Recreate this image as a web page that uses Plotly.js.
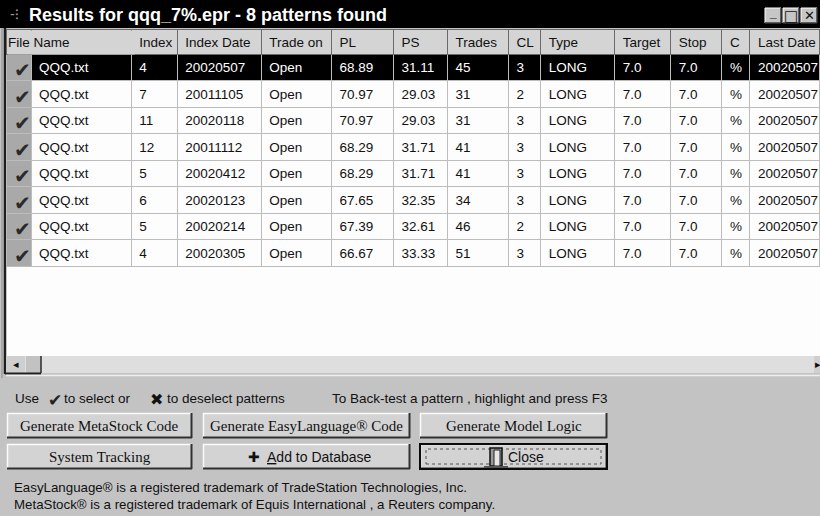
<!DOCTYPE html>
<html><head><meta charset="utf-8">
<script src="https://cdn.plot.ly/plotly-3.0.1.min.js"></script>
<style>html,body{margin:0;padding:0;background:#c3c3c3;}#chart{width:820px;height:516px;}</style>
</head><body><div id="chart"></div>
<script>
// ---------- data ----------
const windowTitle = 'Results for qqq_7%.epr - 8 patterns found';
const fileNameHeader = 'File Name';
const columnHeaders = ['', '', 'Index', 'Index Date', 'Trade on', 'PL', 'PS', 'Trades', 'CL', 'Type', 'Target', 'Stop', 'C', 'Last Date'];
const selected   = [true, true, true, true, true, true, true, true];
const fileNames  = ['QQQ.txt', 'QQQ.txt', 'QQQ.txt', 'QQQ.txt', 'QQQ.txt', 'QQQ.txt', 'QQQ.txt', 'QQQ.txt'];
const indexes    = [4, 7, 11, 12, 5, 6, 5, 4];
const indexDates = ['20020507', '20011105', '20020118', '20011112', '20020412', '20020123', '20020214', '20020305'];
const tradeOn    = ['Open', 'Open', 'Open', 'Open', 'Open', 'Open', 'Open', 'Open'];
const plValues   = [68.89, 70.97, 70.97, 68.29, 68.29, 67.65, 67.39, 66.67];
const psValues   = [31.11, 29.03, 29.03, 31.71, 31.71, 32.35, 32.61, 33.33];
const trades     = [45, 31, 31, 41, 41, 34, 46, 51];
const clValues   = [3, 2, 3, 3, 3, 3, 2, 3];
const types      = ['LONG', 'LONG', 'LONG', 'LONG', 'LONG', 'LONG', 'LONG', 'LONG'];
const targets    = [7.0, 7.0, 7.0, 7.0, 7.0, 7.0, 7.0, 7.0];
const stops      = [7.0, 7.0, 7.0, 7.0, 7.0, 7.0, 7.0, 7.0];
const cUnits     = ['%', '%', '%', '%', '%', '%', '%', '%'];
const lastDates  = ['20020507', '20020507', '20020507', '20020507', '20020507', '20020507', '20020507', '20020507'];
const highlightedRow = 0;
const instructionParts = ['Use', '✔', 'to select or', '✖', 'to deselect patterns'];
const backTestHint = 'To Back-test a pattern , highlight and press F3';
const buttonLabels = ['Generate MetaStock Code', 'Generate EasyLanguage® Code', 'Generate Model Logic',
                      'System Tracking', '✚  <u>A</u>dd to Database', 'Close'];
const footerLines = ['EasyLanguage® is a registered trademark of TradeStation Technologies, Inc.',
                     'MetaStock® is a registered trademark of Equis International , a Reuters company.'];

// ---------- layout helpers (pixel -> paper) ----------
const W = 820, H = 516;
const px = v => v / W;
const py = v => 1 - v / H;
const SANS = 'Liberation Sans, Arial, sans-serif';
const SERIF = 'Liberation Serif, Times New Roman, serif';
const nowrap = s => String(s).replace(/ /g, '\u00a0');

const colWidths = [25, 100, 46, 84, 70, 62, 54, 61, 32, 74, 56, 51, 28, 70];
const rowColor = (hi, normal) => fileNames.map((_, i) => i === highlightedRow ? hi : normal);

const columns = [selected.map(s => s ? '✔' : ''), fileNames, indexes, indexDates, tradeOn,
  plValues, psValues, trades, clValues, types, targets, stops, cUnits, lastDates];
const formats = ['', '', '', '', '', '.2f', '.2f', '', '', '', '.1f', '.1f', '', ''];

const fillColors = columns.map((c, j) => j === 0 ? fileNames.map(() => '#a9a9a9') : rowColor('#000000', '#fdfdfd'));
const fontColors = columns.map((c, j) => j === 0 ? fileNames.map(() => '#2a2a2a') : rowColor('#ffffff', '#111111'));
const fontSizes = columns.map((c, j) => j === 0 ? 20 : 13.5);

const table = {
  type: 'table',
  domain: {x: [px(6), 1], y: [py(356), py(29)]},
  columnwidth: colWidths,
  header: {
    values: columnHeaders.map(nowrap),
    align: 'left',
    height: 25,
    fill: {color: '#d4d4d4'},
    line: {color: '#6a6a6a', width: 1},
    font: {family: SANS, size: 13.5, color: '#111'}
  },
  cells: {
    values: columns,
    format: formats,
    align: 'left',
    height: 26.5,
    fill: {color: fillColors},
    line: {color: '#bcbcbc', width: 1},
    font: {family: SANS, size: fontSizes, color: fontColors}
  }
};

// ---------- chrome: shapes ----------
const shapes = [];
const rect = (x0, y0, x1, y1, fill, line, lw, dash) => shapes.push({
  type: 'rect', xref: 'paper', yref: 'paper', x0: px(x0), x1: px(x1), y0: py(y1), y1: py(y0),
  fillcolor: fill || 'rgba(0,0,0,0)', line: {color: line || 'rgba(0,0,0,0)', width: lw || 0, dash: dash || 'solid'}, layer: 'below'
});
const line = (x0, y0, x1, y1, color, lw) => shapes.push({
  type: 'line', xref: 'paper', yref: 'paper', x0: px(x0), x1: px(x1), y0: py(y0), y1: py(y1),
  line: {color: color, width: lw}, layer: 'below'
});

// title bar
rect(0, 0, 820, 28, '#000000');
[[765, 781], [783, 799], [801, 817]].forEach(b => {
  rect(b[0], 8, b[1], 23, '#c6c6c6');
  line(b[0], 8, b[1], 8, '#ffffff', 1);
  line(b[0], 8, b[0], 23, '#ffffff', 1);
  line(b[0], 23, b[1], 23, '#3a3a3a', 1.5);
  line(b[1], 8, b[1], 23, '#3a3a3a', 1.5);
});
// list area
rect(6, 29, 820, 356, '#fdfdfd');
line(5, 28, 5, 374, '#1e1e1e', 2.5);
line(2, 28, 2, 378, '#8a8a8a', 1);
// horizontal scrollbar
rect(6, 356, 820, 373, '#dedede');
rect(6, 356, 25, 373, '#cfcfcf');
rect(26, 356, 41, 373, '#c2c2c2');
line(41, 356, 41, 373, '#2a2a2a', 1.5);
line(5, 373.5, 41, 373.5, '#1e1e1e', 2);
line(6, 375.5, 820, 375.5, '#efefef', 1.5);
rect(814, 356, 820, 373, '#cfcfcf');

// buttons
const btns = [[7, 413, 192, 438], [203, 413, 410, 438], [420, 413, 607, 438],
              [7, 444, 192, 469], [203, 444, 410, 469], [420, 444, 607, 469]];
btns.forEach((b, i) => {
  const [x0, y0, x1, y1] = b;
  rect(x0, y0, x1, y1, '#d3d3d3');
  line(x0, y0 + 0.5, x1, y0 + 0.5, '#fbfbfb', 1.5);
  line(x0 + 0.5, y0, x0 + 0.5, y1, '#fbfbfb', 1.5);
  line(x0, y1 - 0.5, x1, y1 - 0.5, '#303030', 2);
  line(x1 - 0.5, y0, x1 - 0.5, y1, '#303030', 2);
  if (i === 5) {
    rect(x0, y0, x1, y1, null, '#0a0a0a', 2);
    rect(x0 + 6, y0 + 5, x1 - 6, y1 - 5, null, '#555555', 1, 'dot');
    rect(490, 448, 502, 466, '#9a9a9a', '#111111', 1.5);
    rect(494, 450, 500, 466, '#e8e8e8', '#222222', 1);
    line(484, 467, 508, 467, '#555555', 2);
  }
});

// ---------- text: annotations ----------
const annotations = [];
const text = (t, x, y, size, opts) => annotations.push(Object.assign({
  text: t, xref: 'paper', yref: 'paper', x: px(x), y: py(y), xanchor: 'left', yanchor: 'middle',
  showarrow: false, font: {family: SANS, size: size, color: '#111'}
}, opts || {}));

text('-⁝', 8, 14, 14, {font: {family: SANS, size: 14, color: '#9a9a9a'}});
text(windowTitle, 27, 15, 18, {font: {family: SANS, size: 18, color: '#ffffff', weight: 'bold'}});
text('_', 773, 13, 12, {xanchor: 'center', font: {family: SANS, size: 12, color: '#111', weight: 'bold'}});
text('□', 791, 15.5, 15, {xanchor: 'center', font: {family: 'DejaVu Sans', size: 15, color: '#111', weight: 'bold'}});
text('✕', 809, 15.5, 13, {xanchor: 'center', font: {family: 'DejaVu Sans', size: 13, color: '#111', weight: 'bold'}});

// header text spanning the check and name columns
annotations.push({
  text: fileNameHeader, xref: 'paper', yref: 'paper', x: px(6.5), y: py(29.5), xanchor: 'left', yanchor: 'top',
  width: 126, height: 23, align: 'left', bgcolor: '#d4d4d4', borderpad: 0,
  showarrow: false, font: {family: SANS, size: 13.5, color: '#111'}
});

// scrollbar arrows
text('◂', 15.5, 364.5, 11, {xanchor: 'center', font: {family: 'DejaVu Sans', size: 11, color: '#111'}});
text('▸', 818, 364.5, 11, {xanchor: 'center', font: {family: 'DejaVu Sans', size: 11, color: '#111'}});

// instructions
text(instructionParts[0], 13, 398, 13.5);
text(instructionParts[1], 55, 400, 17, {xanchor: 'center', font: {family: 'DejaVu Sans', size: 17, color: '#222'}});
text(instructionParts[2], 62, 398, 13.5);
text(instructionParts[3], 156, 399, 16, {xanchor: 'center', font: {family: 'DejaVu Sans', size: 16, color: '#111'}});
text(instructionParts[4], 165, 398, 13.5);
text(backTestHint, 330, 398, 13.5);

// button labels
btns.forEach((b, i) => {
  const [x0, y0, x1, y1] = b;
  const cx = i === 4 ? (x0 + x1) / 2 + 3 : i === 5 ? 526 : (x0 + x1) / 2;
  const serif = i < 4;
  text(buttonLabels[i], cx, (y0 + y1) / 2, serif ? 15 : 14,
       {xanchor: 'center', font: {family: serif ? SERIF : SANS, size: serif ? 15 : 14, color: '#111'}});
});

// footer
text(footerLines[0], 12, 487, 13.3);
text(footerLines[1], 12, 504, 13.3);

const layout = {
  width: W, height: H,
  margin: {l: 0, r: 0, t: 0, b: 0},
  paper_bgcolor: '#c3c3c3',
  plot_bgcolor: '#c3c3c3',
  showlegend: false,
  shapes: shapes,
  annotations: annotations
};

Plotly.newPlot('chart', [table], layout, {displayModeBar: false, staticPlot: true});
</script>
</body></html>
